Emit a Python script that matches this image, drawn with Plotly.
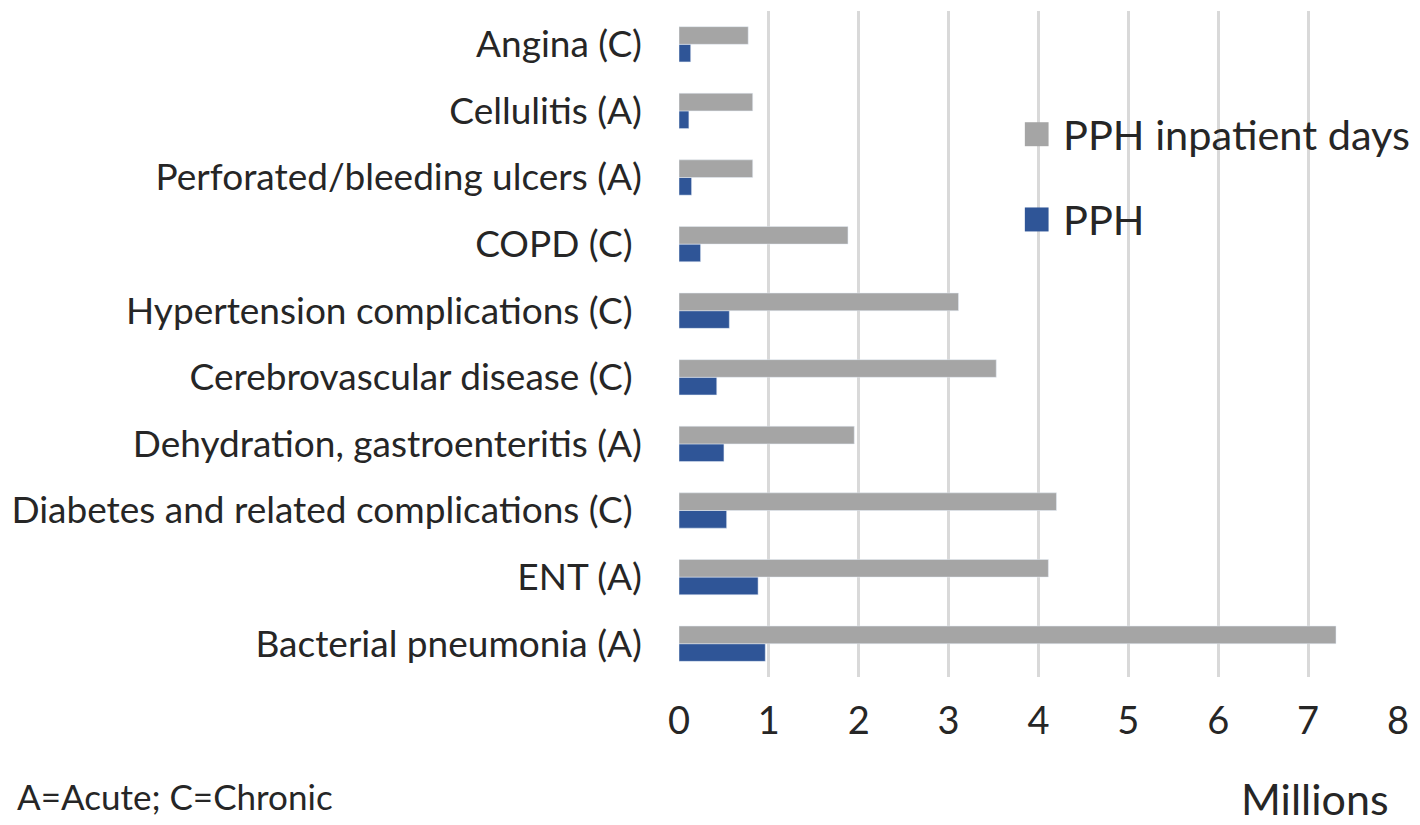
import plotly.graph_objects as go

categories = [
    "Bacterial pneumonia (A)",
    "ENT (A)",
    "Diabetes and related complications (C)\u00a0",
    "Dehydration, gastroenteritis (A)",
    "Cerebrovascular disease (C)\u00a0",
    "Hypertension complications (C)\u00a0",
    "COPD (C)\u00a0",
    "Perforated/bleeding ulcers (A)",
    "Cellulitis (A)",
    "Angina (C)",
]
pph = [0.96, 0.88, 0.53, 0.50, 0.42, 0.56, 0.24, 0.14, 0.11, 0.13]
pph_days = [7.31, 4.11, 4.20, 1.95, 3.53, 3.11, 1.88, 0.82, 0.82, 0.77]
x_ticks = [0, 1, 2, 3, 4, 5, 6, 7, 8]

series_names = ["PPH inpatient days", "PPH"]
series_colors = ["#a5a5a5", "#2f5597"]

FONT = "Lato, 'Open Sans', sans-serif"
TEXT = "#262626"

fig = go.Figure()
fig.add_trace(go.Bar(
    y=categories, x=pph, orientation="h", name=series_names[1],
    marker=dict(color=series_colors[1]),
))
fig.add_trace(go.Bar(
    y=categories, x=pph_days, orientation="h", name=series_names[0],
    marker=dict(color=series_colors[0]),
))

# legend drawn as square swatches + labels inside the plot area
legend_rows = [0.815, 0.687]
shapes = []
annotations = []
for name, color, yc in zip(series_names, series_colors, legend_rows):
    shapes.append(dict(
        type="rect", xref="paper", yref="paper",
        x0=0.481, x1=0.514, y0=yc - 0.018, y1=yc + 0.018,
        fillcolor=color, line=dict(width=0), layer="above",
    ))
    annotations.append(dict(
        text=name, xref="paper", yref="paper",
        x=0.531, y=yc, xanchor="left", yanchor="middle",
        showarrow=False, font=dict(size=41.5, color=TEXT),
    ))

annotations += [
    dict(text="Millions", xref="paper", yref="paper",
         x=0.99, y=-0.183, xanchor="right", yanchor="middle",
         showarrow=False, font=dict(size=43, color=TEXT)),
    dict(text="A=Acute; C=Chronic", xref="paper", yref="paper",
         x=-0.924, y=-0.178, xanchor="left", yanchor="middle",
         showarrow=False, font=dict(size=35, color=TEXT)),
]

fig.update_layout(
    width=1420, height=825,
    margin=dict(l=678, r=16, t=11, b=148),
    paper_bgcolor="white", plot_bgcolor="white",
    barmode="group", bargap=0.47, bargroupgap=0,
    font=dict(family=FONT, size=37, color=TEXT),
    showlegend=False,
    shapes=shapes,
    annotations=annotations,
    xaxis=dict(
        range=[0, 8], tickvals=x_ticks, ticktext=[str(v) for v in x_ticks],
        showgrid=True, gridcolor="#d9d9d9", gridwidth=3,
        zeroline=False, showline=False, ticks="",
        ticklabelstandoff=18,
        tickfont=dict(size=38, color=TEXT),
        fixedrange=True,
    ),
    yaxis=dict(
        showgrid=False, zeroline=False, showline=False, ticks="",
        ticklabelstandoff=36,
        tickfont=dict(size=37, color=TEXT),
        fixedrange=True,
    ),
)

fig.write_html("out.html")
